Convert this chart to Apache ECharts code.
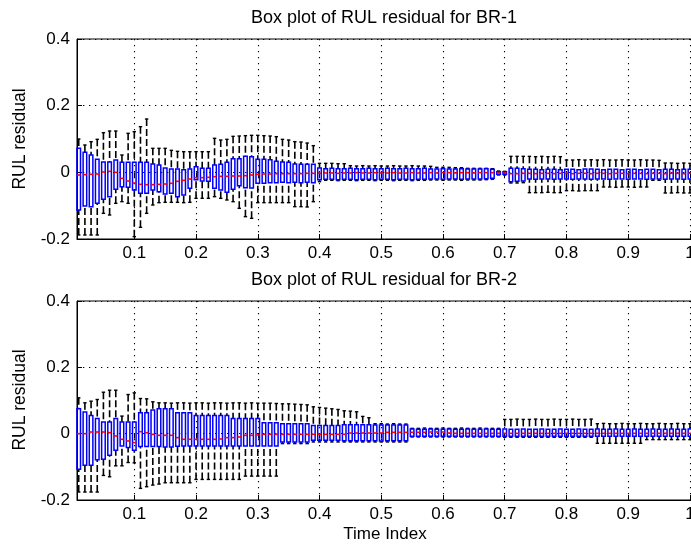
<!DOCTYPE html>
<html>
<head>
<meta charset="utf-8">
<script src="https://cdn.jsdelivr.net/npm/echarts@6/dist/echarts.min.js"></script>
<style>
  html, body { margin: 0; padding: 0; background: #fff; }
  #chart { width: 691px; height: 545px; }
</style>
</head>
<body>
<div id="chart"></div>
<script>
// Time index of each box (1..100 steps of 0.01)
const timeIndex = Array.from({ length: 100 }, (_, i) => +((i + 1) / 100).toFixed(2));
const xTickValues = [0.1, 0.2, 0.3, 0.4, 0.5, 0.6, 0.7, 0.8, 0.9, 1];
const yTickValues = [-0.2, 0, 0.2, 0.4];

// BR-1 residual statistics: whisker ends, quartiles, median
const br1Hi = [
  0.100, 0.082, 0.092, 0.099, 0.119, 0.124, 0.124, 0.052, 0.117, 0.122,
  0.137, 0.160, 0.072, 0.072, 0.072, 0.066, 0.063, 0.062, 0.062, 0.062,
  0.062, 0.062, 0.102, 0.097, 0.099, 0.108, 0.109, 0.110, 0.111, 0.111,
  0.110, 0.109, 0.107, 0.099, 0.097, 0.092, 0.091, 0.088, 0.080, 0.027,
  0.027, 0.027, 0.026, 0.026, 0.020, 0.019, 0.020, 0.019, 0.020, 0.019,
  0.019, 0.020, 0.019, 0.019, 0.020, 0.019, 0.019, 0.018, 0.015, 0.015,
  0.015, 0.014, 0.014, 0.012, 0.012, 0.012, 0.012, 0.011, 0.004, 0.003,
  0.048, 0.048, 0.048, 0.048, 0.047, 0.048, 0.047, 0.048, 0.047, 0.037,
  0.037, 0.038, 0.037, 0.038, 0.037, 0.038, 0.037, 0.037, 0.038, 0.037,
  0.037, 0.038, 0.037, 0.037, 0.036, 0.028, 0.028, 0.027, 0.028, 0.027
];
const br1Q3 = [
  0.072, 0.060, 0.052, 0.039, 0.031, 0.031, 0.037, 0.030, 0.030, 0.030,
  0.030, 0.030, 0.025, 0.022, 0.013, 0.010, 0.010, 0.008, 0.010, 0.017,
  0.012, 0.012, 0.022, 0.024, 0.030, 0.041, 0.041, 0.048, 0.047, 0.039,
  0.039, 0.038, 0.033, 0.031, 0.030, 0.025, 0.024, 0.024, 0.024, 0.013,
  0.011, 0.012, 0.011, 0.011, 0.012, 0.011, 0.011, 0.012, 0.011, 0.011,
  0.012, 0.011, 0.011, 0.012, 0.011, 0.011, 0.012, 0.010, 0.010, 0.011,
  0.010, 0.010, 0.011, 0.010, 0.010, 0.010, 0.011, 0.009, 0.002, 0.002,
  0.012, 0.012, 0.011, 0.009, 0.009, 0.008, 0.009, 0.009, 0.008, 0.009,
  0.009, 0.008, 0.010, 0.010, 0.009, 0.008, 0.009, 0.009, 0.008, 0.009,
  0.009, 0.008, 0.009, 0.009, 0.008, 0.009, 0.009, 0.008, 0.009, 0.009
];
const br1Med = [
  -0.008, -0.007, -0.006, -0.005, 0.001, 0.003, 0.000, -0.018, -0.026, -0.032,
  -0.036, -0.037, -0.037, -0.036, -0.035, -0.033, -0.027, -0.024, -0.020, -0.016,
  -0.016, -0.015, -0.013, -0.012, -0.012, -0.011, -0.011, -0.010, -0.008, -0.006,
  -0.005, -0.005, -0.004, -0.004, -0.004, -0.004, -0.004, -0.003, -0.003, -0.003,
  -0.002, -0.002, -0.003, -0.002, -0.002, -0.001, -0.002, -0.002, -0.001, -0.002,
  -0.002, -0.001, -0.002, -0.002, -0.001, -0.002, -0.002, -0.001, -0.002, -0.001,
  -0.001, -0.002, -0.001, -0.001, -0.002, -0.001, -0.001, -0.001, -0.002, -0.002,
  -0.004, -0.004, -0.003, -0.003, -0.004, -0.003, -0.003, -0.004, -0.003, -0.003,
  -0.004, -0.003, -0.003, -0.004, -0.003, -0.003, -0.004, -0.003, -0.003, -0.004,
  -0.003, -0.003, -0.004, -0.003, -0.003, -0.004, -0.003, -0.003, -0.004, -0.003
];
const br1Q1 = [
  -0.113, -0.101, -0.103, -0.093, -0.081, -0.073, -0.051, -0.043, -0.045, -0.053,
  -0.063, -0.063, -0.053, -0.058, -0.065, -0.063, -0.073, -0.068, -0.048, -0.022,
  -0.026, -0.027, -0.048, -0.053, -0.060, -0.051, -0.040, -0.046, -0.047, -0.033,
  -0.033, -0.031, -0.031, -0.030, -0.031, -0.030, -0.031, -0.030, -0.031, -0.022,
  -0.021, -0.021, -0.022, -0.021, -0.021, -0.022, -0.021, -0.021, -0.022, -0.021,
  -0.021, -0.022, -0.021, -0.021, -0.022, -0.021, -0.021, -0.020, -0.020, -0.021,
  -0.020, -0.020, -0.021, -0.020, -0.020, -0.020, -0.019, -0.018, -0.006, -0.006,
  -0.028, -0.027, -0.026, -0.020, -0.021, -0.020, -0.020, -0.021, -0.020, -0.020,
  -0.021, -0.020, -0.020, -0.021, -0.020, -0.020, -0.021, -0.020, -0.020, -0.021,
  -0.020, -0.020, -0.021, -0.020, -0.020, -0.021, -0.020, -0.020, -0.021, -0.020
];
const br1Lo = [
  -0.188, -0.188, -0.188, -0.188, -0.123, -0.128, -0.093, -0.088, -0.093, -0.193,
  -0.165, -0.123, -0.098, -0.091, -0.090, -0.090, -0.090, -0.091, -0.090, -0.078,
  -0.078, -0.078, -0.073, -0.078, -0.083, -0.088, -0.108, -0.133, -0.138, -0.091,
  -0.091, -0.091, -0.091, -0.091, -0.091, -0.103, -0.103, -0.104, -0.088, -0.028,
  -0.024, -0.024, -0.025, -0.024, -0.024, -0.025, -0.024, -0.024, -0.025, -0.024,
  -0.024, -0.025, -0.024, -0.024, -0.025, -0.024, -0.024, -0.023, -0.023, -0.024,
  -0.023, -0.023, -0.024, -0.023, -0.023, -0.023, -0.022, -0.021, -0.008, -0.008,
  -0.032, -0.032, -0.031, -0.061, -0.061, -0.061, -0.060, -0.061, -0.061, -0.055,
  -0.055, -0.056, -0.055, -0.055, -0.055, -0.044, -0.044, -0.045, -0.044, -0.044,
  -0.045, -0.044, -0.044, -0.024, -0.024, -0.062, -0.062, -0.061, -0.062, -0.062
];

// BR-2 residual statistics
const br2Hi = [
  0.108, 0.093, 0.098, 0.103, 0.125, 0.131, 0.131, 0.053, 0.118, 0.123,
  0.106, 0.105, 0.096, 0.093, 0.093, 0.092, 0.093, 0.093, 0.092, 0.093,
  0.093, 0.092, 0.093, 0.093, 0.092, 0.093, 0.093, 0.092, 0.093, 0.092,
  0.092, 0.092, 0.091, 0.090, 0.090, 0.089, 0.088, 0.087, 0.081, 0.079,
  0.077, 0.075, 0.073, 0.069, 0.068, 0.066, 0.052, 0.048, 0.030, 0.030,
  0.029, 0.030, 0.029, 0.029, 0.016, 0.016, 0.017, 0.016, 0.016, 0.017,
  0.016, 0.016, 0.017, 0.016, 0.016, 0.017, 0.016, 0.016, 0.016, 0.043,
  0.043, 0.044, 0.043, 0.043, 0.044, 0.043, 0.043, 0.044, 0.043, 0.043,
  0.044, 0.043, 0.043, 0.044, 0.030, 0.031, 0.030, 0.030, 0.031, 0.030,
  0.030, 0.031, 0.030, 0.030, 0.031, 0.030, 0.030, 0.031, 0.030, 0.030
];
const br2Q3 = [
  0.075, 0.065, 0.055, 0.046, 0.035, 0.035, 0.046, 0.035, 0.035, 0.035,
  0.063, 0.063, 0.071, 0.075, 0.075, 0.075, 0.063, 0.063, 0.063, 0.055,
  0.055, 0.055, 0.055, 0.055, 0.055, 0.046, 0.046, 0.046, 0.046, 0.046,
  0.033, 0.033, 0.033, 0.030, 0.030, 0.030, 0.030, 0.030, 0.025, 0.025,
  0.025, 0.025, 0.025, 0.027, 0.027, 0.027, 0.027, 0.027, 0.026, 0.026,
  0.026, 0.026, 0.026, 0.026, 0.014, 0.013, 0.013, 0.014, 0.013, 0.013,
  0.014, 0.013, 0.013, 0.014, 0.013, 0.013, 0.014, 0.013, 0.013, 0.014,
  0.013, 0.013, 0.014, 0.013, 0.013, 0.014, 0.013, 0.013, 0.014, 0.013,
  0.013, 0.014, 0.013, 0.013, 0.014, 0.013, 0.013, 0.014, 0.013, 0.013,
  0.014, 0.013, 0.013, 0.014, 0.013, 0.013, 0.014, 0.013, 0.013, 0.014
];
const br2Med = [
  0.000, 0.000, 0.005, 0.005, 0.005, 0.003, -0.007, -0.017, -0.022, -0.027,
  0.006, 0.003, -0.002, -0.005, -0.005, -0.005, -0.012, -0.017, -0.017, -0.017,
  -0.017, -0.017, -0.017, -0.016, -0.012, -0.012, -0.010, -0.005, -0.005, -0.004,
  -0.002, -0.002, -0.002, -0.002, -0.002, -0.002, -0.002, -0.002, -0.002, -0.002,
  -0.002, -0.002, -0.002, -0.002, 0.002, 0.002, 0.002, 0.002, 0.002, 0.002,
  0.004, 0.004, 0.004, 0.004, 0.004, 0.004, 0.004, 0.005, 0.005, 0.005,
  0.002, 0.001, 0.001, 0.001, 0.001, 0.001, 0.001, 0.001, 0.001, 0.001,
  0.001, 0.001, 0.001, 0.001, 0.001, 0.001, 0.001, 0.001, 0.001, 0.001,
  0.001, 0.001, 0.001, 0.001, 0.001, 0.001, 0.001, 0.001, 0.001, 0.001,
  0.001, 0.001, 0.001, 0.001, 0.001, 0.001, 0.001, 0.001, 0.001, 0.001
];
const br2Q1 = [
  -0.107, -0.095, -0.095, -0.079, -0.077, -0.065, -0.050, -0.037, -0.042, -0.050,
  -0.039, -0.039, -0.039, -0.039, -0.040, -0.040, -0.038, -0.037, -0.037, -0.037,
  -0.037, -0.037, -0.037, -0.037, -0.037, -0.037, -0.037, -0.037, -0.037, -0.037,
  -0.037, -0.037, -0.037, -0.025, -0.025, -0.025, -0.025, -0.025, -0.020, -0.020,
  -0.020, -0.020, -0.020, -0.021, -0.021, -0.021, -0.021, -0.021, -0.021, -0.022,
  -0.021, -0.021, -0.021, -0.021, -0.008, -0.008, -0.008, -0.008, -0.008, -0.008,
  -0.008, -0.008, -0.008, -0.008, -0.008, -0.008, -0.008, -0.008, -0.008, -0.008,
  -0.008, -0.008, -0.008, -0.008, -0.008, -0.008, -0.008, -0.008, -0.008, -0.008,
  -0.008, -0.008, -0.008, -0.008, -0.008, -0.008, -0.008, -0.008, -0.008, -0.008,
  -0.008, -0.008, -0.008, -0.008, -0.008, -0.008, -0.008, -0.008, -0.008, -0.008
];
const br2Lo = [
  -0.176, -0.176, -0.176, -0.176, -0.126, -0.130, -0.097, -0.097, -0.087, -0.088,
  -0.165, -0.160, -0.155, -0.152, -0.148, -0.148, -0.148, -0.148, -0.148, -0.138,
  -0.138, -0.138, -0.138, -0.138, -0.138, -0.138, -0.138, -0.128, -0.128, -0.128,
  -0.128, -0.128, -0.128, -0.030, -0.030, -0.030, -0.030, -0.030, -0.025, -0.025,
  -0.025, -0.025, -0.025, -0.025, -0.025, -0.025, -0.025, -0.025, -0.025, -0.025,
  -0.025, -0.025, -0.025, -0.025, -0.010, -0.010, -0.010, -0.010, -0.010, -0.010,
  -0.010, -0.010, -0.010, -0.010, -0.010, -0.010, -0.010, -0.010, -0.010, -0.011,
  -0.011, -0.011, -0.011, -0.011, -0.011, -0.011, -0.011, -0.011, -0.011, -0.011,
  -0.011, -0.011, -0.011, -0.011, -0.029, -0.029, -0.029, -0.029, -0.029, -0.029,
  -0.029, -0.029, -0.018, -0.018, -0.018, -0.018, -0.018, -0.018, -0.018, -0.018
];

const FONT = '"Liberation Sans", Arial, Helvetica, sans-serif';
const X_MIN = 0.0072, X_MAX = 1.0072;
const BOX_W = 0.0058;   // box width in time-index units

function boxRows(lo, q1, med, q3, hi) {
  return timeIndex.map((t, i) => [t, lo[i], q1[i], med[i], q3[i], hi[i]]);
}

// MATLAB-style box: dashed black whiskers, black caps, blue box, red median
function renderBox(params, api) {
  const x = api.value(0);
  const pLo = api.coord([x, api.value(1)]);
  const pQ1 = api.coord([x, api.value(2)]);
  const pMed = api.coord([x, api.value(3)]);
  const pQ3 = api.coord([x, api.value(4)]);
  const pHi = api.coord([x, api.value(5)]);
  const half = api.size([BOX_W, 0])[0] / 2;
  const cap = 1.7;
  const cx = pMed[0];
  const whisker = { stroke: '#000', lineWidth: 1.6, lineDash: [7, 3] };
  const solid = { stroke: '#000', lineWidth: 1.4 };
  return {
    type: 'group',
    children: [
      { type: 'line', shape: { x1: cx, y1: pHi[1], x2: cx, y2: pQ3[1] }, style: whisker },
      { type: 'line', shape: { x1: cx, y1: pLo[1], x2: cx, y2: pQ1[1] }, style: whisker },
      { type: 'line', shape: { x1: cx - cap, y1: pHi[1], x2: cx + cap, y2: pHi[1] }, style: solid },
      { type: 'line', shape: { x1: cx - cap, y1: pLo[1], x2: cx + cap, y2: pLo[1] }, style: solid },
      {
        type: 'rect',
        shape: { x: cx - half, y: pQ3[1], width: half * 2, height: pQ1[1] - pQ3[1] },
        style: { fill: 'none', stroke: '#0000ff', lineWidth: 1.5 }
      },
      { type: 'line', shape: { x1: cx - half, y1: pMed[1], x2: cx + half, y2: pMed[1] },
        style: { stroke: '#ff0000', lineWidth: 1.6 } }
    ]
  };
}

const dotted = { color: '#000', width: 1.1, type: [1.3, 4.7] };

function bottomAxis(gridIndex) {
  return {
    gridIndex, type: 'value', min: X_MIN, max: X_MAX,
    axisLine: { show: true, onZero: false, lineStyle: { color: '#000', width: 1 } },
    axisTick: { show: true, inside: true, length: 5, customValues: xTickValues,
                lineStyle: { color: '#000' } },
    axisLabel: { customValues: xTickValues, color: '#000', fontSize: 17,
                 fontFamily: FONT, margin: 6, hideOverlap: false, formatter: v => String(v) },
    splitLine: { show: true, lineStyle: dotted }
  };
}
function topAxis(gridIndex) {
  return {
    gridIndex, type: 'value', position: 'top', min: X_MIN, max: X_MAX,
    axisLine: { show: false },
    axisTick: { show: true, inside: true, length: 5, customValues: xTickValues,
                lineStyle: { color: '#000' } },
    axisLabel: { show: false },
    splitLine: { show: false }
  };
}
function leftAxis(gridIndex) {
  return {
    gridIndex, type: 'value', min: -0.2, max: 0.4, interval: 0.2,
    axisLine: { show: true, onZero: false, lineStyle: { color: '#000', width: 1 } },
    axisTick: { show: true, inside: true, length: 5, lineStyle: { color: '#000' } },
    axisLabel: { color: '#000', fontSize: 17, fontFamily: FONT, margin: 7,
                 formatter: v => String(+v.toFixed(1)) },
    splitLine: { show: true, lineStyle: dotted }
  };
}

function text(x, y, str, size, rotation) {
  return {
    type: 'text', x, y, rotation: rotation || 0,
    style: {
      text: str, fill: '#000', font: size + 'px ' + FONT,
      align: 'center', verticalAlign: 'middle',
      textAlign: 'center', textVerticalAlign: 'middle'
    }
  };
}

const chart = echarts.init(document.getElementById('chart'), null, { renderer: 'canvas' });
chart.setOption({
  backgroundColor: '#fff',
  animation: false,
  grid: [
    { left: 77, top: 39, width: 617.4, height: 200, outerBoundsMode: 'none', containLabel: false,
      show: true, borderColor: '#000', borderWidth: 1 },
    { left: 77, top: 301, width: 617.4, height: 199, outerBoundsMode: 'none', containLabel: false,
      show: true, borderColor: '#000', borderWidth: 1 }
  ],
  xAxis: [bottomAxis(0), topAxis(0), bottomAxis(1), topAxis(1)],
  yAxis: [leftAxis(0), leftAxis(1)],
  series: [
    { type: 'custom', xAxisIndex: 0, yAxisIndex: 0, renderItem: renderBox,
      encode: { x: 0, y: [1, 2, 3, 4, 5] },
      data: boxRows(br1Lo, br1Q1, br1Med, br1Q3, br1Hi) },
    { type: 'custom', xAxisIndex: 2, yAxisIndex: 1, renderItem: renderBox,
      encode: { x: 0, y: [1, 2, 3, 4, 5] },
      data: boxRows(br2Lo, br2Q1, br2Med, br2Q3, br2Hi) }
  ],
  graphic: [
    text(384, 18, 'Box plot of RUL residual for BR-1', 18),
    text(384, 280, 'Box plot of RUL residual for BR-2', 18),
    text(20, 139, 'RUL residual', 17.5, Math.PI / 2),
    text(20, 400, 'RUL residual', 17.5, Math.PI / 2),
    text(385, 534, 'Time Index', 17)
  ]
});
</script>
</body>
</html>
